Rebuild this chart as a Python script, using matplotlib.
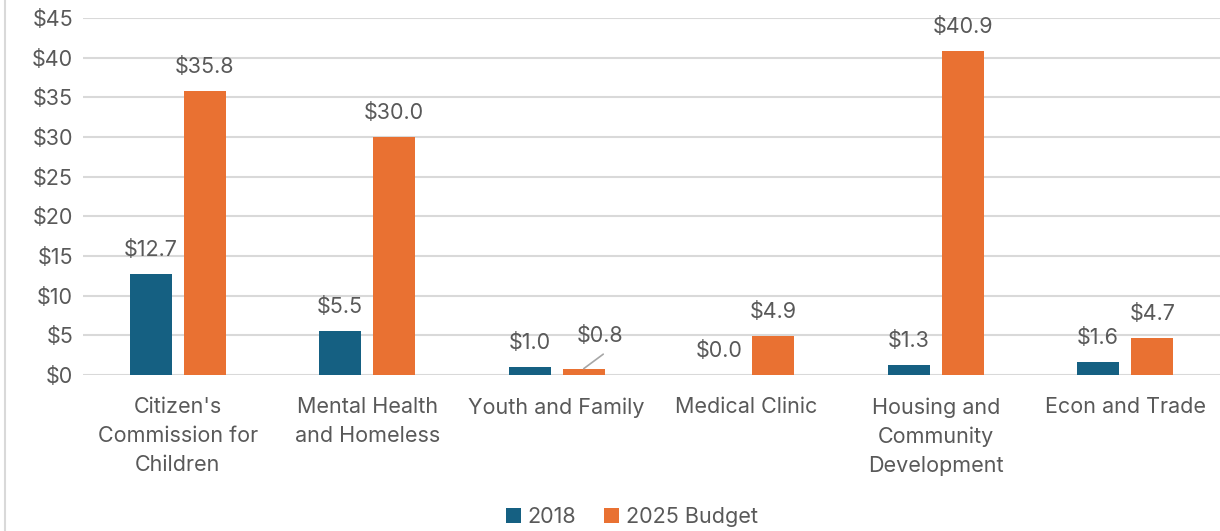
import numpy as np
import matplotlib.pyplot as plt
from matplotlib.lines import Line2D

# data
categories = ["Citizen's\nCommission for\nChildren", "Mental Health\nand Homeless",
              "Youth and Family", "Medical Clinic",
              "Housing and\nCommunity\nDevelopment", "Econ and Trade"]
values_2018 = [12.7, 5.5, 1.0, 0.0, 1.3, 1.6]
values_2025 = [35.8, 30.0, 0.8, 4.9, 40.9, 4.7]
series_names = ["2018", "2025 Budget"]
yticks = [0, 5, 10, 15, 20, 25, 30, 35, 40, 45]

BLUE = "#156082"
ORANGE = "#E97132"
TEXT = "#595959"
GRID = "#D9D9D9"
FS = 15.5

plt.rcParams['font.family'] = ['Inter', 'DejaVu Sans']

fig = plt.figure(figsize=(12.2, 5.31), dpi=100)
ax = fig.add_axes([0.068, 0.2938, 0.932, 0.6722])

x = np.arange(len(categories))
w = 0.222
off = 0.1425
b1 = ax.bar(x - off, values_2018, w, color=BLUE, label=series_names[0], zorder=3)
b2 = ax.bar(x + off, values_2025, w, color=ORANGE, label=series_names[1], zorder=3)

ax.set_xlim(-0.5, len(categories) - 0.5)
ax.set_ylim(0, 45)
ax.set_yticks(yticks)
ax.set_yticklabels([f"${v}" for v in yticks], fontsize=FS, color=TEXT)
ax.set_xticks(x)
ax.set_xticklabels(categories, fontsize=FS, color=TEXT, linespacing=1.55)
ax.tick_params(axis='both', length=0)
ax.tick_params(axis='x', pad=16)
ax.tick_params(axis='y', pad=7)
ax.grid(axis='y', color=GRID, linewidth=1.5, zorder=0)
for s in ax.spines.values():
    s.set_visible(False)

# data labels
for bars, vals in ((b1, values_2018), (b2, values_2025)):
    for bar, v in zip(bars, vals):
        cx = bar.get_x() + bar.get_width() / 2
        if bars is b2 and v == 0.8:
            # pulled-out label with a leader line
            ax.annotate(f"${v:.1f}", xy=(cx, v), xytext=(11.5, 16),
                        textcoords="offset points", ha="center", va="bottom",
                        fontsize=FS, color=TEXT,
                        arrowprops=dict(arrowstyle="-", color="#A6A6A6", lw=1.2,
                                        shrinkA=6, shrinkB=0,
                                        relpos=(0.8, 0)))
        else:
            ax.annotate(f"${v:.1f}", xy=(cx, v), xytext=(0, 10),
                        textcoords="offset points", ha="center", va="bottom",
                        fontsize=FS, color=TEXT)

leg = fig.legend(loc="center", bbox_to_anchor=(0.518, 0.027), ncol=2, frameon=False,
                 fontsize=FS, handlelength=0.7, handleheight=0.7, handletextpad=0.3,
                 columnspacing=1.3)
for t in leg.get_texts():
    t.set_color(TEXT)

# chart area border on the left
fig.add_artist(Line2D([0.0045, 0.0045], [0, 1], color=GRID, lw=1.5, transform=fig.transFigure))

fig.savefig("out.png", dpi=100)
